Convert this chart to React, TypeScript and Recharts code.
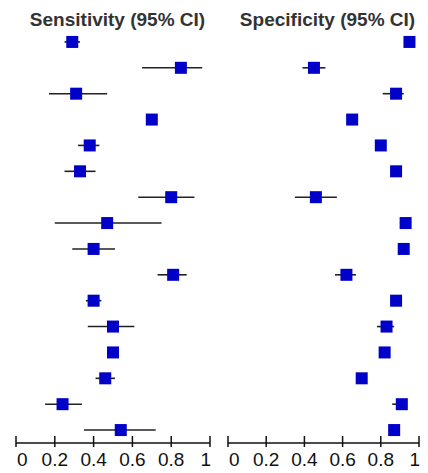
import { ScatterChart, Scatter, XAxis, YAxis, ErrorBar } from 'recharts';

const rows = [1, 2, 3, 4, 5, 6, 7, 8, 9, 10, 11, 12, 13, 14, 15, 16];

const sensEst = [0.29, 0.85, 0.31, 0.7, 0.38, 0.33, 0.8, 0.47, 0.4, 0.81, 0.4, 0.5, 0.5, 0.46, 0.24, 0.54];
const sensLow = [0.25, 0.65, 0.17, 0.68, 0.32, 0.25, 0.63, 0.2, 0.29, 0.73, 0.36, 0.37, 0.48, 0.41, 0.15, 0.35];
const sensHigh = [0.33, 0.96, 0.47, 0.72, 0.43, 0.41, 0.92, 0.75, 0.51, 0.88, 0.44, 0.61, 0.52, 0.51, 0.34, 0.72];

const specEst = [0.95, 0.45, 0.88, 0.65, 0.8, 0.88, 0.46, 0.93, 0.92, 0.62, 0.88, 0.83, 0.82, 0.7, 0.91, 0.87];
const specLow = [0.93, 0.39, 0.81, 0.63, 0.78, 0.86, 0.35, 0.9, 0.89, 0.56, 0.86, 0.78, 0.8, 0.67, 0.86, 0.84];
const specHigh = [0.97, 0.51, 0.92, 0.67, 0.82, 0.9, 0.57, 0.95, 0.94, 0.67, 0.9, 0.87, 0.84, 0.72, 0.93, 0.89];

const xTicks = [0, 0.2, 0.4, 0.6, 0.8, 1];

const FONT = '"Liberation Sans", Arial, sans-serif';

function buildRows(est: number[], low: number[], high: number[]) {
    return rows.map((row, i) => ({
        row,
        est: est[i],
        err: [est[i] - low[i], high[i] - est[i]],
    }));
}

function Square(props: any) {
    const { cx, cy } = props;
    if (cx == null || cy == null) return null;
    return <rect x={cx - 6} y={cy - 6} width={12} height={12} fill="#0000c8" />;
}

function AxisTick(props: any) {
    const { x, y, payload } = props;
    const v = payload.value;
    // first label sits right of its tick, last one left of it, as in the original
    const anchor = v === 0 ? 'start' : v === 1 ? 'end' : 'middle';
    const dx = v === 0 ? 1 : v === 1 ? 1 : 0;
    return (
        <g>
            <line x1={x} x2={x} y1={y - 7} y2={y + 4} stroke="#111" strokeWidth={1.5} />
            <text x={x + dx} y={y + 23} textAnchor={anchor} fontSize={19} fontFamily={FONT} fill="#111">
                {String(v)}
            </text>
        </g>
    );
}

function Panel({
    data,
    margin,
}: {
    data: { row: number; est: number; err: number[] }[];
    margin: { left: number; right: number };
}) {
    return (
        <ScatterChart
            width={214}
            height={473}
            margin={{ top: 29, bottom: 0, left: margin.left, right: margin.right }}
        >
            <XAxis
                type="number"
                dataKey="est"
                domain={[0, 1]}
                ticks={xTicks}
                height={30}
                tickSize={0}
                tickMargin={0}
                tickLine={false}
                axisLine={{ stroke: '#111', strokeWidth: 1.5 }}
                tick={<AxisTick />}
                interval={0}
                allowDataOverflow
            />
            <YAxis type="number" dataKey="row" domain={[0.5, 16.5]} reversed hide />
            <Scatter data={data} shape={<Square />} isAnimationActive={false}>
                <ErrorBar dataKey="err" direction="x" width={0} stroke="#222" strokeWidth={1.6} />
            </Scatter>
        </ScatterChart>
    );
}

export default function App() {
    const sensData = buildRows(sensEst, sensLow, sensHigh);
    const specData = buildRows(specEst, specLow, specHigh);
    const titleStyle = {
        position: 'absolute' as const,
        top: 10,
        width: 201,
        textAlign: 'center' as const,
        fontFamily: FONT,
        fontWeight: 700,
        fontSize: 19,
        lineHeight: '19px',
        color: '#333',
        whiteSpace: 'nowrap' as const,
    };
    return (
        <div style={{ position: 'absolute', left: 0, top: 0, width: 428, height: 473, background: '#fff' }}>
            <div style={{ position: 'absolute', left: 0, top: 0 }}>
                <Panel data={sensData} margin={{ left: 16, right: 4 }} />
            </div>
            <div style={{ position: 'absolute', left: 214, top: 0 }}>
                <Panel data={specData} margin={{ left: 14, right: 9 }} />
            </div>
            <div style={{ ...titleStyle, left: 17 }}>Sensitivity (95% CI)</div>
            <div style={{ ...titleStyle, left: 227 }}>Specificity (95% CI)</div>
        </div>
    );
}
